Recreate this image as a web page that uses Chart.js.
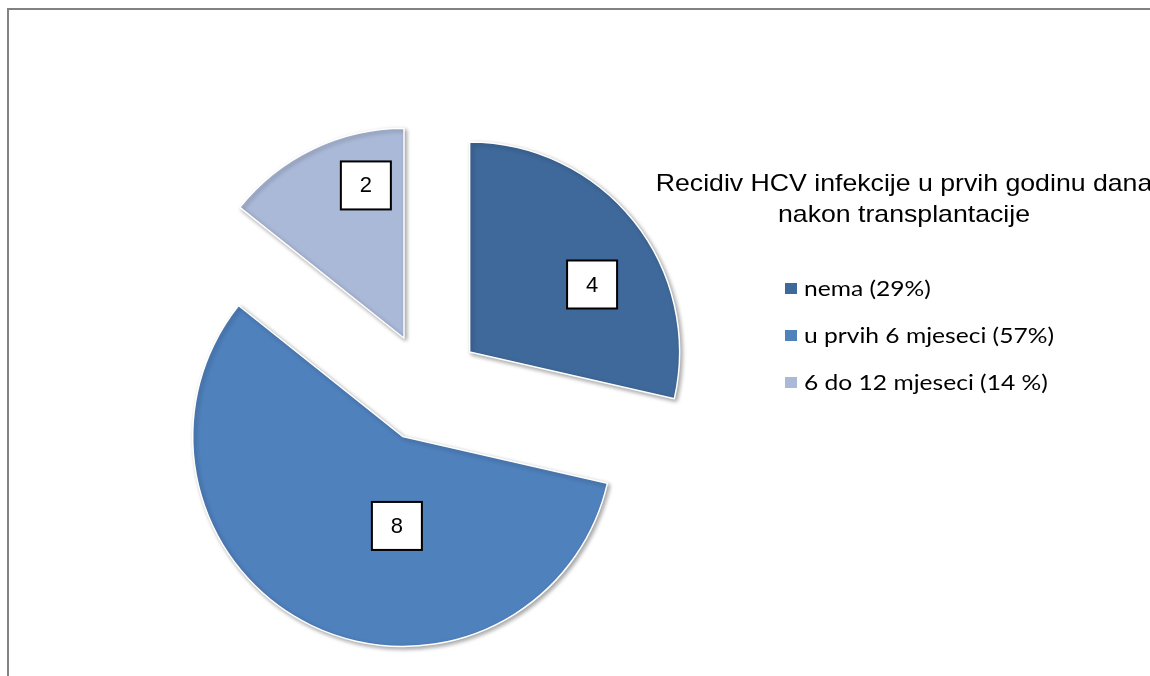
<!DOCTYPE html>
<html><head><meta charset="utf-8">
<script src="https://cdn.jsdelivr.net/npm/chart.js@4.4.0/dist/chart.umd.min.js"></script>
<style>
html,body{margin:0;padding:0;background:#fff;overflow:hidden;width:1150px;height:676px}
#frame{position:absolute;left:7px;top:8px;width:1200px;height:720px;border:2px solid #828282;box-sizing:border-box}
#wrap{position:absolute;left:0;top:0;width:1150px;height:676px}
</style></head><body>
<div id="frame"></div>
<div id="wrap"><canvas id="c" width="1150" height="676"></canvas></div>
<script>
// ---- data ----
const categories = ['nema (29%)', 'u prvih 6 mjeseci (57%)', '6 do 12 mjeseci (14 %)'];
const values = [4, 8, 2];
const titleLines = ['Recidiv HCV infekcije u prvih godinu dana', 'nakon transplantacije'];

// ---- style ----
const sliceColors = ['#3F699B', '#4F81BD', '#AAB9D8'];
const explode = [54.5, 56, 53];            // px each slice pulled out
const labelAngleShift = [9.7, -22, 11.7];  // deg, label direction relative to slice middle
const labelDistFrac = [0.666, 0.427, 0.75];

const explodePlugin = {
  id: 'explode',
  beforeDatasetDraw(chart, args) {
    const ctx = chart.ctx;
    args.meta.data.forEach((arc, i) => {
      const mid = (arc.startAngle + arc.endAngle) / 2;
      const d = explode[i];
      ctx.save();
      ctx.translate(Math.cos(mid) * d, Math.sin(mid) * d);
      ctx.shadowColor = 'rgba(0,0,0,0.35)';
      ctx.shadowBlur = 4;
      ctx.shadowOffsetX = 2;
      ctx.shadowOffsetY = 2;
      arc.draw(ctx);
      ctx.restore();
    });
    return false;
  },
  afterDraw(chart) {
    const ctx = chart.ctx;
    const meta = chart.getDatasetMeta(0);
    // value labels
    meta.data.forEach((arc, i) => {
      const mid = (arc.startAngle + arc.endAngle) / 2;
      const vx = arc.x + Math.cos(mid) * explode[i];
      const vy = arc.y + Math.sin(mid) * explode[i];
      const a = mid + labelAngleShift[i] * Math.PI / 180;
      const dist = labelDistFrac[i] * arc.outerRadius;
      const lx = vx + Math.cos(a) * dist;
      const ly = vy + Math.sin(a) * dist;
      const bw = 50, bh = 48;
      ctx.save();
      ctx.fillStyle = '#fff';
      ctx.fillRect(lx - bw / 2, ly - bh / 2, bw, bh);
      ctx.strokeStyle = '#000';
      ctx.lineWidth = 2;
      ctx.strokeRect(lx - bw / 2, ly - bh / 2, bw, bh);
      ctx.fillStyle = '#000';
      ctx.font = '22px "Liberation Sans", Arial, sans-serif';
      ctx.textAlign = 'center';
      ctx.textBaseline = 'middle';
      ctx.fillText(String(chart.data.datasets[0].data[i]), lx, ly + 1);
      ctx.restore();
    });
    // legend title
    ctx.save();
    ctx.fillStyle = '#000';
    ctx.font = '24px "Liberation Sans", Arial, sans-serif';
    ctx.textBaseline = 'alphabetic';
    ctx.textAlign = 'center';
    const sx = 252 / ctx.measureText(titleLines[1]).width;
    const tcx = 904;
    const tBase = [191, 222];
    titleLines.forEach((t, k) => {
      ctx.save();
      ctx.translate(tcx, tBase[k]);
      ctx.scale(sx, 1);
      ctx.fillText(t, 0, 0);
      ctx.restore();
    });
    ctx.restore();
    // legend items
    ctx.save();
    ctx.font = '22px Lato, "Open Sans", sans-serif';
    ctx.textBaseline = 'alphabetic';
    ctx.textAlign = 'left';
    const lsx = 250 / ctx.measureText(chart.data.labels[1]).width;
    const baseY = [296, 343, 390];
    chart.data.labels.forEach((lab, i) => {
      ctx.fillStyle = chart.data.datasets[0].backgroundColor[i];
      ctx.fillRect(785, baseY[i] - 13, 12, 11);
      ctx.fillStyle = '#000';
      ctx.save();
      ctx.translate(804, baseY[i]);
      ctx.scale(lsx, 1);
      ctx.fillText(lab, 0, 0);
      ctx.restore();
    });
    ctx.restore();
  }
};

new Chart(document.getElementById('c'), {
  type: 'pie',
  data: {
    labels: categories,
    datasets: [{
      data: values,
      backgroundColor: sliceColors,
      borderColor: '#ffffff',
      borderWidth: 1.5
    }]
  },
  options: {
    responsive: false,
    animation: false,
    radius: 210,
    layout: { padding: { left: 0, right: 296, top: 96, bottom: 0 } },
    plugins: {
      legend: { display: false },
      tooltip: { enabled: false },
      title: { display: false }
    }
  },
  plugins: [explodePlugin]
});
</script>
</body></html>
